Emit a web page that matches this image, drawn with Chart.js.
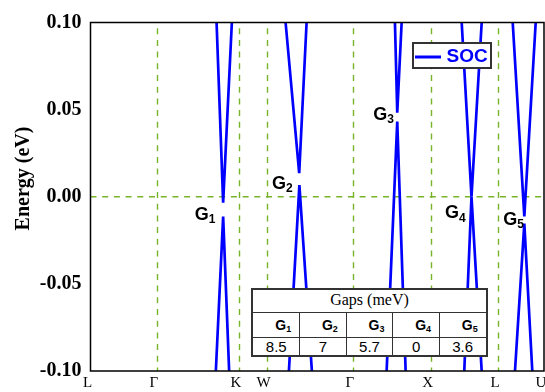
<!DOCTYPE html>
<html><head><meta charset="utf-8">
<script src="https://cdn.jsdelivr.net/npm/chart.js@4.4.1/dist/chart.umd.min.js"></script>
<style>
html,body{margin:0;padding:0;background:#fff;overflow:hidden}
#wrap{position:relative;width:545px;height:392px}
canvas{display:block}
#tbl{position:absolute;left:251px;top:288px;width:237px;height:69px;box-sizing:border-box;border:2px solid #333;background:#fff}
#tbl div{position:absolute}
.hl{height:1px;background:#333;left:0;width:233px}
.vl{width:1px;background:#333;top:23px;height:42px}
.hdr{left:0;top:0;width:233px;height:22px;text-align:center;font:16px 'Liberation Serif';line-height:19px;color:#000}
.gname{height:24px;text-align:center;font:bold 14px 'Liberation Sans';line-height:25px;color:#000;box-sizing:border-box}
.gname sub{font-size:9px;vertical-align:-2px;line-height:0}
.gval{height:17px;text-align:center;font:15px 'Liberation Sans';line-height:17px;color:#000}
</style></head><body>
<div id="wrap"><canvas id="c" width="545" height="392"></canvas><div id="tbl"></div></div>
<script>
// k-path (fraction of total path length) and labels
const kPos = [0, 0.1463, 0.3272, 0.3883, 0.5786, 0.7501, 0.8985, 1.0];
const kLabels = ['L', 'Γ', 'K', 'W', 'Γ', 'X', 'L', 'U'];
const yTicks = [-0.1, -0.05, 0, 0.05, 0.1];
const yTickLabels = ['-0.10', '-0.05', '0.00', '0.05', '0.10'];

// bands near the gaps: [k, Energy (eV)]
const g1Upper = [[0.2780, 0.100], [0.2925, -0.0034], [0.3117, 0.100]];
const g1Lower = [[0.2764, -0.100], [0.2925, -0.0114], [0.3057, -0.100]];
const g2Upper = [[0.4302, 0.100], [0.4602, 0.0135], [0.4765, 0.100]];
const g2Lower = [[0.4375, -0.100], [0.4606, 0.0067], [0.4882, -0.100]];
const g3Upper = [[0.6713, 0.100], [0.6764, 0.0482], [0.6861, 0.100]];
const g3Lower = [[0.6530, -0.100], [0.6764, 0.0431], [0.6949, -0.100]];
const g4Upper = [[0.8185, 0.100], [0.8401, 0.0000], [0.8626, 0.100]];
const g4Lower = [[0.8242, -0.100], [0.8401, 0.0000], [0.8626, -0.100]];
const g5Upper = [[0.9310, 0.100], [0.9566, -0.0113], [0.9817, 0.100]];
const g5Lower = [[0.9360, -0.100], [0.9566, -0.0154], [0.9742, -0.100]];

// gap labels and table
const gapIndex = ['1', '2', '3', '4', '5'];
const gapValues = ['8.5', '7', '5.7', '0', '3.6'];
const gapLabelK = [0.2301, 0.4000, 0.6234, 0.7816, 0.9102];
const gapLabelE = [-0.0133, 0.0047, 0.0441, -0.0124, -0.0162];
const seriesName = 'SOC';
const tableTitle = 'Gaps (meV)';
const yTitle = 'Energy (eV)';

const bands = [g1Upper, g1Lower, g2Upper, g2Lower, g3Upper, g3Lower, g4Upper, g4Lower, g5Upper, g5Lower];
const BLUE = '#0000ff';
const GREEN = '#78b42a';

const extras = {
  id: 'extras',
  beforeDatasetsDraw(chart) {
    const {ctx, chartArea: a, scales: {x, y}} = chart;
    ctx.save();
    ctx.strokeStyle = GREEN;
    ctx.lineWidth = 1.4;
    ctx.setLineDash([6, 5.7]);
    ctx.lineDashOffset = 6;
    for (let i = 1; i < kPos.length - 1; i++) {
      const px = Math.round(x.getPixelForValue(kPos[i])) + 0.5;
      ctx.beginPath(); ctx.moveTo(px, a.top); ctx.lineTo(px, a.bottom); ctx.stroke();
    }
    ctx.lineDashOffset = 0;
    const py = y.getPixelForValue(0);
    ctx.beginPath(); ctx.moveTo(a.left, py); ctx.lineTo(a.right, py); ctx.stroke();
    ctx.restore();
  },
  afterDraw(chart) {
    const {ctx, chartArea: a, scales: {x, y}} = chart;
    ctx.save();
    // frame
    ctx.strokeStyle = '#000';
    ctx.lineWidth = 1.5;
    ctx.strokeRect(a.left, a.top, a.right - a.left, a.bottom - a.top);
    // gap labels
    ctx.fillStyle = '#000';
    ctx.textBaseline = 'alphabetic';
    ctx.textAlign = 'left';
    for (let i = 0; i < gapIndex.length; i++) {
      const px = x.getPixelForValue(gapLabelK[i]);
      const py = y.getPixelForValue(gapLabelE[i]);
      ctx.font = "bold 18px 'Liberation Sans'";
      ctx.fillText('G', px, py);
      const w = ctx.measureText('G').width;
      ctx.font = "bold 12px 'Liberation Sans'";
      ctx.fillText(gapIndex[i], px + w, py + 3.5);
    }
    // legend
    ctx.fillStyle = '#fff';
    ctx.fillRect(413, 43, 78, 25);
    ctx.strokeStyle = '#333';
    ctx.lineWidth = 2;
    ctx.strokeRect(413, 43, 78, 25);
    ctx.strokeStyle = BLUE;
    ctx.lineWidth = 3;
    ctx.beginPath(); ctx.moveTo(415, 57); ctx.lineTo(441, 57); ctx.stroke();
    ctx.fillStyle = BLUE;
    ctx.font = "bold 19px 'Liberation Sans'";
    ctx.textBaseline = 'middle';
    ctx.fillText(seriesName, 446.5, 56.5);
    // y title
    ctx.fillStyle = '#000';
    ctx.font = "bold 20px 'Liberation Serif'";
    ctx.textAlign = 'center';
    ctx.textBaseline = 'alphabetic';
    ctx.translate(29, 178.5);
    ctx.rotate(-Math.PI / 2);
    ctx.fillText(yTitle, 0, 0);
    ctx.restore();
  }
};

new Chart(document.getElementById('c'), {
  type: 'line',
  data: {
    datasets: bands.map((b, i) => ({
      label: i === 0 ? seriesName : '',
      data: b.map(p => ({x: p[0], y: p[1]})),
      borderColor: BLUE,
      borderWidth: 2.7,
      pointRadius: 0,
      tension: 0,
      fill: false
    }))
  },
  options: {
    responsive: false,
    animation: false,
    events: [],
    layout: {padding: {top: 22.5, right: 1, bottom: 1, left: 0}},
    plugins: {legend: {display: false}, tooltip: {enabled: false}},
    scales: {
      x: {
        type: 'linear', min: 0, max: 1,
        afterBuildTicks: s => { s.ticks = kPos.map(v => ({value: v})); },
        afterFit: s => { s.paddingLeft = 0; s.paddingRight = 0; s.height = 20; },
        grid: {display: false, drawTicks: false},
        border: {display: false},
        ticks: {autoSkip: false, maxRotation: 0, minRotation: 0, padding: 5, labelOffset: -3,
          color: '#000', font: {family: 'Liberation Serif', size: 15, lineHeight: 1},
          callback: (v, i) => kLabels[i]}
      },
      y: {
        type: 'linear', min: -0.1, max: 0.1,
        afterBuildTicks: s => { s.ticks = yTicks.map(v => ({value: v})); },
        afterFit: s => { s.width = 90.5; s.paddingTop = 0; s.paddingBottom = 0; },
        grid: {display: false, drawTicks: false},
        border: {display: false},
        ticks: {padding: 9, color: '#000', font: {family: 'Liberation Serif', size: 20, weight: 'bold'},
          callback: (v, i) => yTickLabels[i]}
      }
    }
  },
  plugins: [extras]
});

// table
const tbl = document.getElementById('tbl');
const colW = 233 / 5;
let html = '<div class="hdr">' + tableTitle + '</div>';
html += '<div class="hl" style="top:22px"></div><div class="hl" style="top:47px"></div>';
for (let i = 0; i < gapIndex.length; i++) {
  const left = i * colW;
  html += '<div class="gname" style="left:' + left + 'px;top:23px;width:' + colW + 'px;padding-left:14px">G<sub>' + gapIndex[i] + '</sub></div>';
  html += '<div class="gval" style="left:' + left + 'px;top:48px;width:' + colW + 'px">' + gapValues[i] + '</div>';
  if (i > 0) html += '<div class="vl" style="left:' + Math.round(left - 0.5) + 'px"></div>';
}
tbl.innerHTML = html;
</script>
</body></html>
